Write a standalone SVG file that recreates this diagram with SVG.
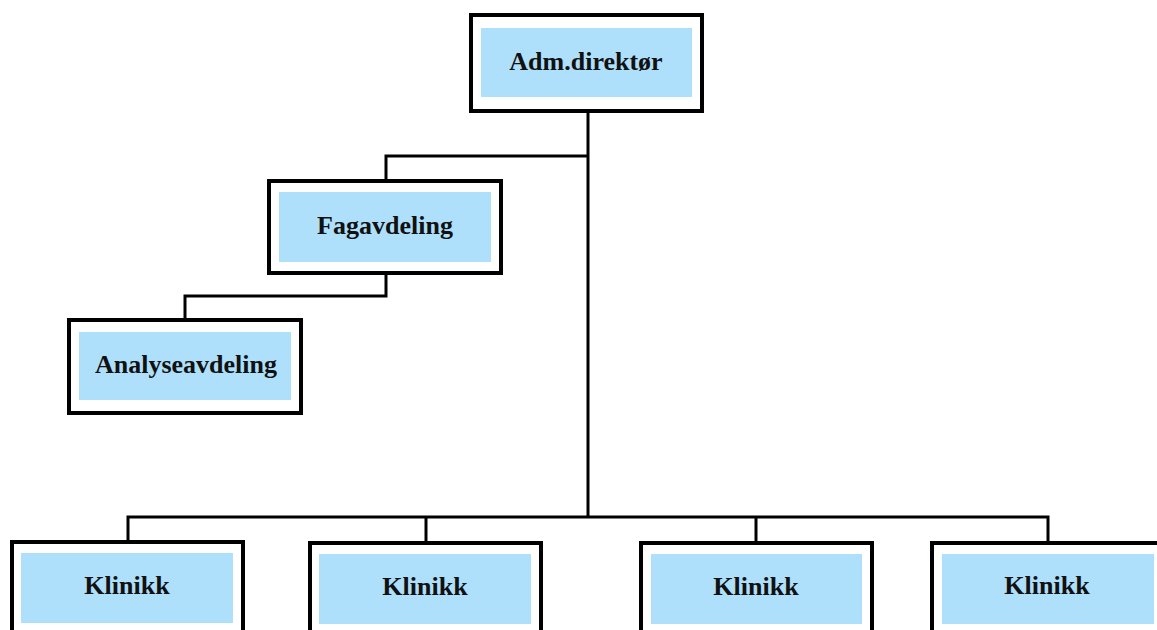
<svg xmlns="http://www.w3.org/2000/svg" width="1157" height="630" viewBox="0 0 1157 630">
<style>
.outer{fill:#fff;stroke:#000;stroke-width:4}
.inner{fill:#aee0fc;stroke:none}
.lbl{font-family:"Liberation Serif","Times New Roman",serif;font-weight:bold;font-size:26px;fill:#111;text-anchor:middle}
.conn{fill:none;stroke:#000;stroke-width:3}
</style>
<rect width="1157" height="630" fill="#fff"/>
<g id="connectors">
<path class="conn" d="M588,111 V517"/>
<path class="conn" d="M588,156 H386 V181"/>
<path class="conn" d="M386,273 V296 H185 V320"/>
<path class="conn" d="M128,542 V517 H1048 V542"/>
<path class="conn" d="M426,517 V542"/>
<path class="conn" d="M756,517 V542"/>
</g>
<g id="adm">
<rect class="outer" x="471" y="15" width="231" height="96"/>
<rect class="inner" x="481" y="28" width="211" height="69"/>
<text class="lbl" x="586" y="70">Adm.direktør</text>
</g>
<g id="fag">
<rect class="outer" x="269" y="181" width="232" height="92"/>
<rect class="inner" x="279" y="192" width="212" height="70"/>
<text class="lbl" x="385" y="234">Fagavdeling</text>
</g>
<g id="analyse">
<rect class="outer" x="69" y="320" width="232" height="93"/>
<rect class="inner" x="79" y="332" width="212" height="68"/>
<text class="lbl" x="186" y="373">Analyseavdeling</text>
</g>
<g id="klinikk1">
<rect class="outer" x="12" y="542" width="231" height="100"/>
<rect class="inner" x="21" y="553" width="212" height="70"/>
<text class="lbl" x="127" y="594">Klinikk</text>
</g>
<g id="klinikk2">
<rect class="outer" x="310" y="543" width="231" height="100"/>
<rect class="inner" x="319" y="554" width="212" height="70"/>
<text class="lbl" x="425" y="595">Klinikk</text>
</g>
<g id="klinikk3">
<rect class="outer" x="641" y="543" width="231" height="100"/>
<rect class="inner" x="651" y="554" width="211" height="70"/>
<text class="lbl" x="756" y="595">Klinikk</text>
</g>
<g id="klinikk4">
<rect class="outer" x="932" y="543" width="232" height="100"/>
<rect class="inner" x="942" y="554" width="212" height="70"/>
<text class="lbl" x="1047" y="594">Klinikk</text>
</g>
</svg>
